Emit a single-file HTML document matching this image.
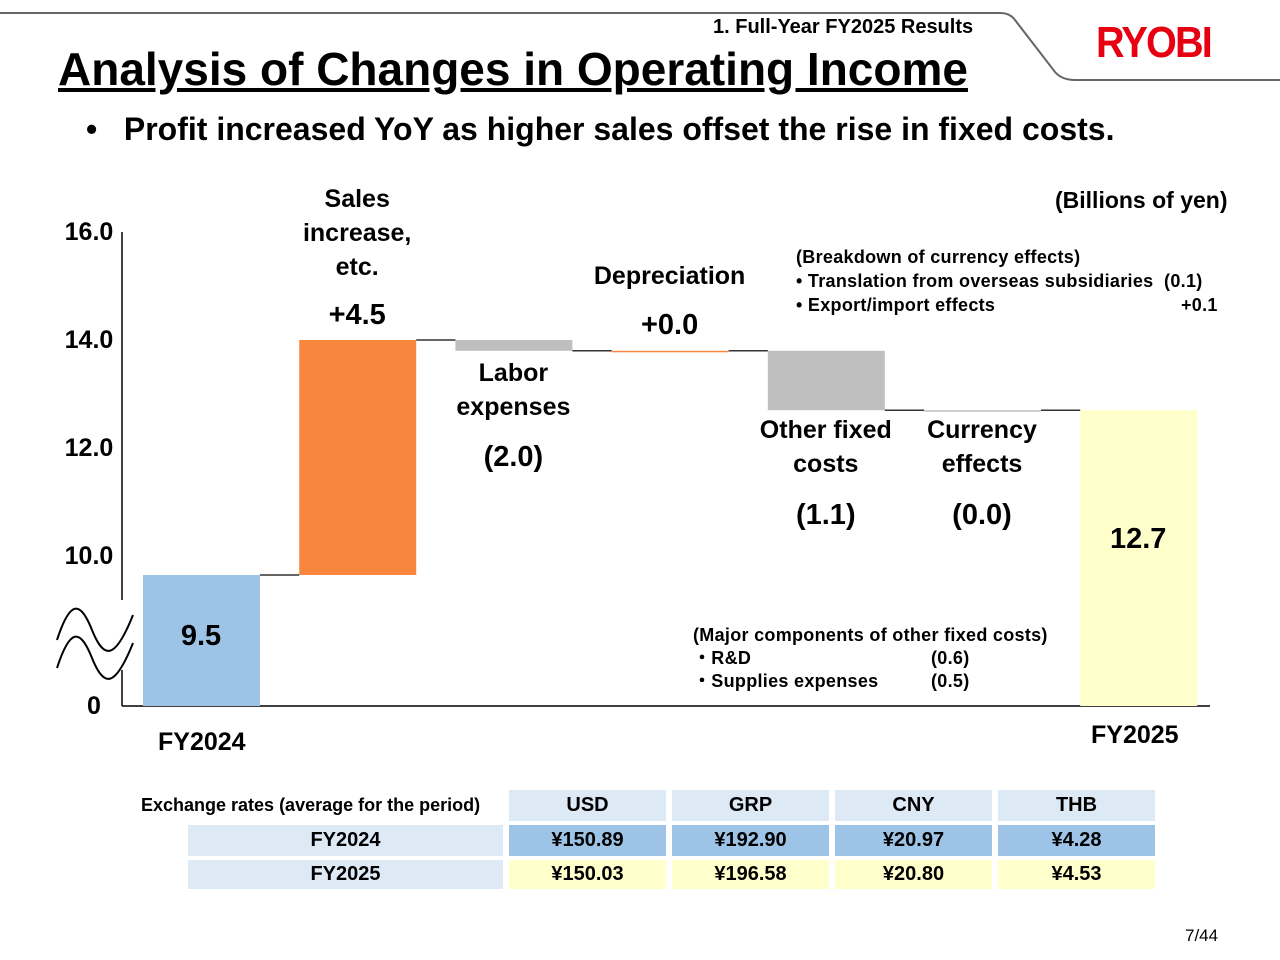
<!DOCTYPE html>
<html><head><meta charset="utf-8"><style>
body{margin:0;width:1280px;height:960px;background:#fff;font-family:"Liberation Sans",Arial,sans-serif;position:relative;overflow:hidden;color:#000}
.t{position:absolute;font-weight:bold;white-space:nowrap}
.c{text-align:center}
td{font-weight:bold;font-size:20px;text-align:center;padding:0}
</style></head><body>
<svg width="1280" height="960" style="position:absolute;left:0;top:0">
<path d="M0,13 L1000,13 Q1010,13 1015,20 L1055,72 Q1062,80 1075,80 L1280,80" fill="none" stroke="#666" stroke-width="2"/>
<g id="plot"></g>
<path d="M57,640 C70,600 80,600 92,630 C104,660 115,660 133,615 M57,668 C70,628 80,628 92,658 C104,688 115,688 133,643" fill="none" stroke="#000" stroke-width="2"/>
</svg>
<div class="t" style="left:713px;top:16px;font-size:20px">1. Full-Year FY2025 Results</div>
<div class="t" style="left:1096px;top:18px;font-size:44px;color:#e60012;letter-spacing:-2px;transform:scaleX(0.9);transform-origin:left">RYOBI</div>
<div class="t" style="left:58px;top:42px;font-size:46px;text-decoration:underline">Analysis of Changes in Operating Income</div>
<div class="t" style="left:86px;top:111px;font-size:32px">•&nbsp;&nbsp;&nbsp;Profit increased YoY as higher sales offset the rise in fixed costs.</div>
<div class="t" style="left:1055px;top:187px;font-size:23px">(Billions of yen)</div>
<div class="t" style="left:796px;top:245px;font-size:18px;line-height:24px;letter-spacing:0.3px">(Breakdown of currency effects)<br>• Translation from overseas subsidiaries&nbsp;&nbsp;(0.1)<br>• Export/import effects<span style="position:absolute;left:385px">+0.1</span></div>
<div class="t" style="left:693px;top:624px;font-size:18px;line-height:23px;letter-spacing:0.3px">(Major components of other fixed costs)<br>・R&amp;D<span style="position:absolute;left:238px">(0.6)</span><br>・Supplies expenses<span style="position:absolute;left:238px">(0.5)</span></div>
<div class="t" style="left:158px;top:728px;font-size:25px">FY2024</div>
<div class="t" style="left:1091px;top:721px;font-size:25px">FY2025</div>
<div id="labels"></div>
<table style="position:absolute;left:182px;top:786px;border-collapse:separate;border-spacing:6px 4px">
<tr style="height:31px"><td style="width:315px;background:transparent"></td><td style="width:157px;background:#dde9f5">USD</td><td style="width:157px;background:#dde9f5">GRP</td><td style="width:157px;background:#dde9f5">CNY</td><td style="width:157px;background:#dde9f5">THB</td></tr>
<tr style="height:31px"><td style="background:#dde9f5">FY2024</td><td style="background:#9dc3e6">¥150.89</td><td style="background:#9dc3e6">¥192.90</td><td style="background:#9dc3e6">¥20.97</td><td style="background:#9dc3e6">¥4.28</td></tr>
<tr style="height:29px"><td style="background:#dde9f5">FY2025</td><td style="background:#ffffcc">¥150.03</td><td style="background:#ffffcc">¥196.58</td><td style="background:#ffffcc">¥20.80</td><td style="background:#ffffcc">¥4.53</td></tr>
</table>
<div class="t" style="left:141px;top:795px;font-size:18px">Exchange rates (average for the period)</div>
<div class="t" style="left:1185px;top:926px;font-size:17px;font-weight:normal">7/44</div>
<script>
const categories=["FY2024","Sales increase, etc.","Labor expenses","Depreciation","Other fixed costs","Currency effects","FY2025"];
const startValue=9.5;
const deltas=[4.5,-0.2,0.0,-1.1,0.0];
const endValue=12.7;
const printed=["9.5","+4.5","(2.0)","+0.0","(1.1)","(0.0)","12.7"];
const tickValues=[16,14,12,10];
const tickLabels=["16.0","14.0","12.0","10.0"];
const colors=["#9dc3e6","#f8863d","#bfbfbf","#f8863d","#bfbfbf","#bfbfbf","#ffffcc"];
const NS="http://www.w3.org/2000/svg";
const g=document.getElementById('plot');
function y(v){return v>=10?556-(v-10)*54:556-(v-10)*38;}
function x(i){return 143+i*156.2;}
const base=706,bw=117;
function mk(tag,a){const e=document.createElementNS(NS,tag);for(const k in a)e.setAttribute(k,a[k]);g.appendChild(e);return e;}
let ax=mk('line',{x1:122,y1:232,x2:122,y2:600,stroke:'#000','stroke-width':1.5});


let ax2=mk('line',{x1:122,y1:670,x2:122,y2:706,stroke:'#000','stroke-width':1.5});


let xa=mk('line',{x1:122,y1:706,x2:1210,y2:706,stroke:'#000','stroke-width':1.5});


const L=document.getElementById('labels');
function lab(txt,l,t,fs,name,w){const d=document.createElement('div');d.className='t c';d.style.left=l+'px';d.style.top=t+'px';d.style.fontSize=fs+'px';d.style.width=(w||200)+'px';d.style.lineHeight='34px';d.innerHTML=txt;


L.appendChild(d);}
tickValues.forEach((v,i)=>lab(tickLabels[i],44,y(v)-17,25,'y-tick-label',90));
lab("0",40,base-17,25,'y-tick-zero',108);
let cur=startValue;const tops=[];
function bar(i,a,b){const t=Math.min(y(a),y(b)),h=Math.max(Math.abs(y(a)-y(b)),1.5);
const r=mk('rect',{x:x(i),y:t,width:bw,height:h,fill:colors[i]});

}
bar(0,startValue,startValue);
{const r=g.lastChild;r.setAttribute('y',y(startValue));r.setAttribute('height',base-y(startValue));}
tops.push(cur);
deltas.forEach((d,k)=>{bar(k+1,cur,cur+d);cur+=d;tops.push(cur);});
mk('rect',{x:x(6),y:y(endValue),width:bw,height:base-y(endValue),fill:colors[6]});


tops.forEach((v,i)=>{const c=mk('line',{x1:x(i)+bw,x2:x(i+1),y1:y(v),y2:y(v),stroke:'#333','stroke-width':1.5});

});
lab(printed[0],x(0)-42,y(startValue)+44,29,'value-fy2024');
lab(printed[6],x(6)-42,y(endValue)+112,29,'value-fy2025');
lab("Sales<br>increase,<br>etc.",x(1)-42,182,25,'cat-sales');
lab(printed[1],x(1)-42,y(tops[1])-42,29,'value-sales');
lab("Labor<br>expenses",x(2)-42,356,25,'cat-labor');
lab(printed[2],x(2)-42,y(tops[2])+89,29,'value-labor');
lab("Depreciation",x(3)-42,259,25,'cat-depreciation');
lab(printed[3],x(3)-42,y(tops[3])-43,29,'value-depreciation');
lab("Other fixed<br>costs",x(4)-42,413,25,'cat-other-fixed');
lab(printed[4],x(4)-42,y(tops[4])+88,29,'value-other-fixed');
lab("Currency<br>effects",x(5)-42,413,25,'cat-currency');
lab(printed[5],x(5)-42,y(tops[5])+88,29,'value-currency');
</script>
</body></html>
